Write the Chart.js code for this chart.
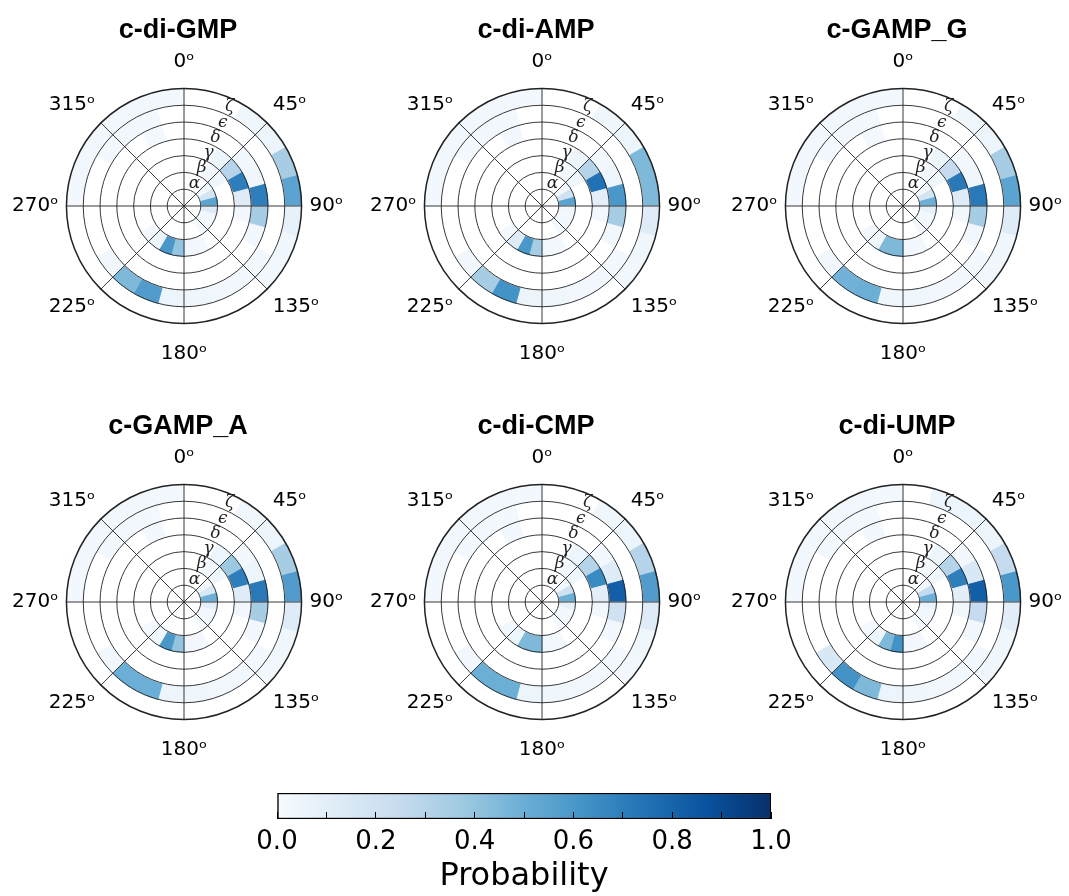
<!DOCTYPE html>
<html>
<head>
<meta charset="utf-8">
<script src="https://cdn.jsdelivr.net/npm/chart.js@4/dist/chart.umd.min.js"></script>
<style>
  body { margin: 0; background: #fff; width: 1069px; height: 896px; position: relative; overflow: hidden; }
  .box { position: absolute; }
</style>
</head>
<body>
<div class="box" style="left:6px;top:4px;width:344px;height:365px"><canvas id="p0"></canvas></div>
<div class="box" style="left:364px;top:4px;width:344px;height:365px"><canvas id="p1"></canvas></div>
<div class="box" style="left:725px;top:4px;width:344px;height:365px"><canvas id="p2"></canvas></div>
<div class="box" style="left:6px;top:400px;width:344px;height:365px"><canvas id="p3"></canvas></div>
<div class="box" style="left:364px;top:400px;width:344px;height:365px"><canvas id="p4"></canvas></div>
<div class="box" style="left:725px;top:400px;width:344px;height:365px"><canvas id="p5"></canvas></div>
<div class="box" style="left:230px;top:778px;width:600px;height:118px"><canvas id="cbar"></canvas></div>
<script>
const titles = ['c-di-GMP', 'c-di-AMP', 'c-GAMP_G', 'c-GAMP_A', 'c-di-CMP', 'c-di-UMP'];
const angleLabels = ['0ᵒ', '45ᵒ', '90ᵒ', '135ᵒ', '180ᵒ', '225ᵒ', '270ᵒ', '315ᵒ'];
const ringNames = ['α', 'β', 'γ', 'δ', 'ϵ', 'ζ'];
const holeRadius = 1;
const ringOuter = [2, 3, 4, 5, 6, 7];
const cbarTicks = [0, 0.1, 0.2, 0.3, 0.4, 0.5, 0.6, 0.7, 0.8, 0.9, 1.0];
const bluesStops = ['#f7fbff', '#deebf7', '#c6dbef', '#9ecae1', '#6baed6', '#4292c6', '#2171b5', '#08519c', '#08306b'];

// probability per ring (alpha..zeta), 24 bins of 15 degrees clockwise from 0
const gmp = [
  [0,0,0,0.03,0.18,0.55,0.12,0.03,0.02,0.02,0,0, 0,0,0,0,0,0,0,0,0,0,0,0],
  [0,0,0.02,0.04,0,0,0,0,0,0,0.02,0.03, 0.40,0.60,0.05,0.02,0,0,0,0,0,0,0,0],
  [0,0,0.05,0.30,0.70,0.12,0.03,0,0,0,0,0, 0,0,0,0,0,0,0,0,0,0,0,0],
  [0,0,0,0.02,0.04,0.70,0.35,0.03,0,0,0,0, 0,0,0,0,0,0,0,0,0,0,0.02,0],
  [0,0,0,0,0,0,0,0,0.02,0.03,0.03,0.04, 0.05,0.58,0.45,0.03,0,0,0,0,0.02,0.03,0.02,0],
  [0,0,0.04,0.05,0.35,0.55,0.08,0.04,0.03,0,0,0, 0,0,0,0,0,0,0.02,0.03,0.03,0.03,0.03,0.02]
];
const amp = [
  [0,0,0,0.03,0.20,0.55,0.04,0.02,0.02,0.02,0,0, 0,0,0,0,0,0,0,0,0,0,0,0],
  [0,0,0.02,0.04,0,0,0,0,0,0,0.02,0.03, 0.35,0.60,0.12,0.02,0,0,0,0,0,0,0,0],
  [0,0,0.05,0.30,0.75,0.10,0.03,0,0,0,0,0, 0,0,0,0,0,0,0,0,0,0,0,0],
  [0,0,0,0.02,0.05,0.60,0.35,0.03,0,0,0,0, 0,0,0,0,0,0,0,0,0,0,0.02,0],
  [0,0,0,0,0,0,0,0,0.02,0.03,0.03,0.04, 0.05,0.62,0.35,0.03,0,0,0,0,0.02,0.03,0.02,0],
  [0,0,0.04,0.05,0.45,0.45,0.12,0.04,0.03,0,0,0, 0,0,0,0,0,0,0.02,0.03,0.03,0.03,0.03,0.02]
];
const gampG = [
  [0,0,0,0.03,0.18,0.50,0.08,0.02,0.02,0.02,0,0, 0,0,0,0,0,0,0,0,0,0,0,0],
  [0,0,0.02,0.04,0,0,0,0,0,0,0.02,0.03, 0.45,0.45,0.04,0.02,0,0,0,0,0,0,0,0],
  [0,0,0.05,0.25,0.72,0.12,0.03,0,0,0,0,0, 0,0,0,0,0,0,0,0,0,0,0,0],
  [0,0,0,0.02,0.04,0.72,0.35,0.03,0,0,0,0, 0,0,0,0,0,0,0,0,0,0,0.02,0],
  [0,0,0,0,0,0,0,0,0.02,0.03,0.03,0.04, 0.04,0.50,0.48,0.03,0,0,0,0,0.02,0.03,0.02,0],
  [0,0,0.04,0.05,0.35,0.55,0.12,0.04,0.03,0,0,0, 0,0,0,0,0,0,0.02,0.03,0.03,0.03,0.03,0.02]
];
const gampA = [
  [0,0,0,0.03,0.15,0.50,0.10,0.02,0.02,0.02,0,0, 0,0,0,0,0,0,0,0,0,0,0,0],
  [0,0,0.02,0.04,0,0,0,0,0,0,0.02,0.03, 0.40,0.60,0.04,0.02,0,0,0,0,0,0,0,0],
  [0,0,0.05,0.38,0.70,0.12,0.03,0,0,0,0,0, 0,0,0,0,0,0,0,0,0,0,0,0],
  [0,0,0,0.02,0.05,0.72,0.35,0.03,0,0,0,0, 0,0,0,0,0,0,0,0,0,0,0.02,0],
  [0,0,0,0,0,0,0,0,0.02,0.03,0.03,0.04, 0.05,0.50,0.50,0.03,0,0,0,0,0.02,0.03,0.02,0],
  [0,0,0.04,0.05,0.35,0.58,0.12,0.04,0.03,0,0,0, 0,0,0,0,0,0,0.02,0.03,0.03,0.03,0.03,0.02]
];
const cmp = [
  [0,0,0,0.03,0.20,0.50,0.08,0.02,0.02,0.02,0,0, 0,0,0,0,0,0,0,0,0,0,0,0],
  [0,0,0.02,0.04,0,0,0,0,0,0,0.02,0.03, 0.45,0.45,0.05,0.02,0,0,0,0,0,0,0,0],
  [0,0,0.05,0.30,0.65,0.10,0.03,0,0,0,0,0, 0,0,0,0,0,0,0,0,0,0,0,0],
  [0,0,0,0.02,0.12,0.82,0.20,0.03,0,0,0,0, 0,0,0,0,0,0,0,0,0,0,0.02,0],
  [0,0,0,0,0,0,0,0,0.02,0.03,0.03,0.04, 0.05,0.50,0.50,0.03,0,0,0,0,0.02,0.03,0.02,0],
  [0,0,0.04,0.05,0.30,0.58,0.12,0.04,0.03,0,0,0, 0,0,0,0,0,0,0.02,0.03,0.03,0.03,0.03,0.02]
];
const ump = [
  [0,0,0,0.03,0.25,0.50,0.06,0.02,0.02,0.02,0,0, 0,0,0,0,0,0,0,0,0,0,0,0],
  [0,0,0.02,0.04,0,0,0,0,0,0,0.02,0.03, 0.62,0.45,0.05,0.02,0,0,0,0,0,0,0,0],
  [0,0,0.05,0.30,0.70,0.10,0.03,0,0,0,0,0, 0,0,0,0,0,0,0,0,0,0,0,0],
  [0,0,0,0.02,0.15,0.82,0.25,0.03,0,0,0,0, 0,0,0,0,0,0,0,0,0,0,0.02,0],
  [0,0,0,0,0,0,0,0,0.02,0.03,0.03,0.04, 0.05,0.45,0.62,0.15,0,0,0,0,0.02,0.03,0.02,0],
  [0,0.05,0.05,0.05,0.25,0.60,0.10,0.04,0.04,0,0,0, 0,0,0,0,0,0,0.02,0.03,0.03,0.03,0.03,0.02]
];
const allProbs = [gmp, amp, gampG, gampA, cmp, ump];

function hexToRgb(h) {
  return [parseInt(h.slice(1, 3), 16), parseInt(h.slice(3, 5), 16), parseInt(h.slice(5, 7), 16)];
}
function blues(v) {
  const t = Math.max(0, Math.min(1, v)) * (bluesStops.length - 1);
  const i = Math.min(Math.floor(t), bluesStops.length - 2);
  const f = t - i;
  const a = hexToRgb(bluesStops[i]), b = hexToRgb(bluesStops[i + 1]);
  const c = a.map((x, k) => Math.round(x + (b[k] - x) * f));
  return `rgb(${c[0]},${c[1]},${c[2]})`;
}
function cellColor(v) {
  return v > 0 ? blues(v) : '#ffffff';
}

const ringLabelPlugin = {
  id: 'ringLabels',
  afterDraw(chart) {
    const s = chart.scales.r;
    const ctx = chart.ctx;
    ctx.save();
    ctx.font = 'italic 17px "DejaVu Serif"';
    ctx.fillStyle = '#222';
    ctx.textAlign = 'center';
    ctx.textBaseline = 'middle';
    ringNames.forEach((name, k) => {
      const p = s.getPointPosition(0.55, s.getDistanceFromCenterForValue(ringOuter[k] - 0.5));
      ctx.fillText(name, p.x, p.y);
    });
    ctx.restore();
  }
};

function makePolar(id, title, probs) {
  const datasets = [{
    data: probs[0].map(() => holeRadius),
    backgroundColor: '#ffffff', borderColor: '#ffffff', borderWidth: 1
  }];
  probs.forEach((row, k) => {
    const cols = row.map(cellColor);
    datasets.push({
      data: row.map(() => ringOuter[k]),
      backgroundColor: cols, borderColor: cols, borderWidth: 1
    });
  });
  new Chart(document.getElementById(id), {
    type: 'polarArea',
    data: { labels: angleLabels, datasets: datasets },
    options: {
      responsive: true, maintainAspectRatio: false, animation: false,
      layout: { padding: 0 },
      plugins: {
        legend: { display: false }, tooltip: { enabled: false },
        title: { display: true, text: title, color: '#000',
          font: { family: 'Liberation Sans', size: 27, weight: 'bold' }, padding: { top: 10, bottom: 1 } }
      },
      scales: {
        r: {
          min: 0, max: 7, startAngle: 0,
          ticks: { display: false, stepSize: 1 },
          grid: { circular: true, color: '#222', z: 1,
            lineWidth: c => c.index === 7 ? 1.5 : 0.9 },
          angleLines: { display: true, color: '#222', lineWidth: 0.9 },
          pointLabels: { display: true, color: '#000',
            padding: c => c.index === 0 ? 15 : (c.index === 4 ? 18 : 8),
            font: { family: 'DejaVu Sans', size: 20 } }
        }
      }
    },
    plugins: [ringLabelPlugin]
  });
}

allProbs.forEach((p, i) => makePolar('p' + i, titles[i], p));

// colorbar
new Chart(document.getElementById('cbar'), {
  type: 'bar',
  data: {
    labels: ['Probability'],
    datasets: [{
      data: [[cbarTicks[0], cbarTicks[cbarTicks.length - 1]]],
      backgroundColor: ctx => {
        const ca = ctx.chart.chartArea;
        if (!ca || !isFinite(ca.left) || ca.right <= ca.left) return bluesStops[0];
        const g = ctx.chart.ctx.createLinearGradient(ca.left, 0, ca.right, 0);
        bluesStops.forEach((c, i) => g.addColorStop(i / (bluesStops.length - 1), c));
        return g;
      },
      borderColor: '#000', borderWidth: 1.5, borderSkipped: false,
      barPercentage: 1, categoryPercentage: 1
    }]
  },
  options: {
    indexAxis: 'y', responsive: true, maintainAspectRatio: false, animation: false,
    layout: { padding: { left: 47, right: 59, top: 15, bottom: 0 } },
    plugins: { legend: { display: false }, tooltip: { enabled: false } },
    scales: {
      y: { display: false },
      x: {
        type: 'linear', min: 0, max: 1,
        afterBuildTicks: s => { s.ticks = cbarTicks.map(v => ({ value: v })); },
        afterFit: s => { s.height = 77; },
        ticks: { color: '#000', padding: 15, autoSkip: false, maxRotation: 0,
          font: { family: 'DejaVu Sans', size: 26 },
          callback: v => (Math.round(v * 10) % 2 === 0 ? v.toFixed(1) : '') },
        grid: { drawOnChartArea: false, drawTicks: true, tickLength: -7, color: '#000', z: 1 },
        border: { display: false },
        title: { display: true, text: 'Probability', color: '#000', padding: 0,
          font: { family: 'DejaVu Sans', size: 32 } }
      }
    }
  }
});
</script>
</body>
</html>
